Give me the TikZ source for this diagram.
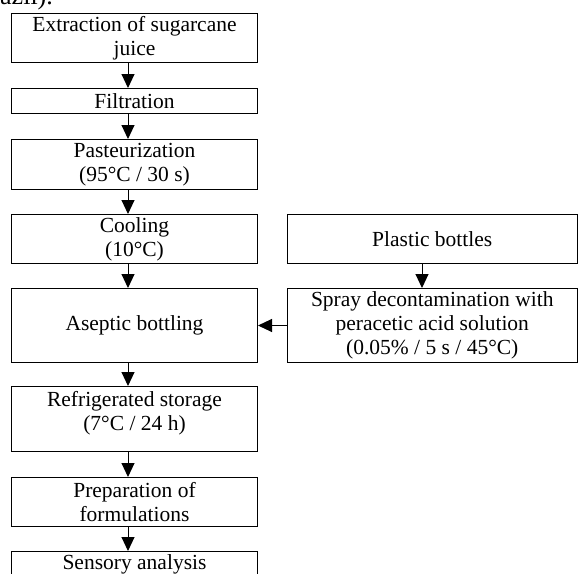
\documentclass[tikz,border=0pt]{standalone}
\usepackage{fontspec}
\setmainfont{Liberation Serif}
\usetikzlibrary{arrows.meta}
\begin{document}
\begin{tikzpicture}[x=1pt,y=-1pt,
  txt/.style={inner sep=0pt, align=center, font=\fontsize{21.5}{24}\selectfont},
  box/.style={txt, draw, line width=1pt, anchor=north west},
  lbox/.style={box, minimum width=246pt},
  rbox/.style={box, minimum width=289.5pt},
  arr/.style={line width=1pt, -{Triangle[width=13pt,length=14pt]}}]
\clip (0,0) rectangle (578,573);
\node[anchor=base west, inner sep=0pt, font=\fontsize{26}{30}\selectfont] (cap) at (0,4) {azil).};
\node[lbox, minimum height=49pt] (b1) at (11,13) {Extraction of sugarcane\\juice};
\node[lbox, minimum height=25pt] (b2) at (11,88) {Filtration};
\node[lbox, minimum height=50pt] (b3) at (11,139) {Pasteurization\\(95°C / 30 s)};
\node[lbox, minimum height=49pt] (b4) at (11,214) {Cooling\\(10°C)};
\node[lbox, minimum height=74pt] (b5) at (11,288) {Aseptic bottling};
\node[lbox, minimum height=65pt] (b6) at (11,386) {};
\node[txt, anchor=north] (b6t) at ([yshift=-5pt]b6.north) {Refrigerated storage\\(7°C / 24 h)};
\node[lbox, minimum height=49pt] (b7) at (11,477) {Preparation of\\formulations};
\node[lbox, minimum height=26pt] (b8) at (11,551) {Sensory analysis};
\node[rbox, minimum height=49pt] (p1) at (287,214) {Plastic bottles};
\node[rbox, minimum height=74pt] (p2) at (287,288) {Spray decontamination with\\peracetic acid solution\\(0.05\% / 5 s / 45°C)};
\coordinate (axL) at (128,0);
\coordinate (axR) at (422,0);
\draw[arr] (b1.south -| axL) -- (b2.north -| axL);
\draw[arr] (b2.south -| axL) -- (b3.north -| axL);
\draw[arr] (b3.south -| axL) -- (b4.north -| axL);
\draw[arr] (b4.south -| axL) -- (b5.north -| axL);
\draw[arr] (b5.south -| axL) -- (b6.north -| axL);
\draw[arr] (b6.south -| axL) -- (b7.north -| axL);
\draw[arr] (b7.south -| axL) -- (b8.north -| axL);
\draw[arr] (p1.south -| axR) -- (p2.north -| axR);
\draw[arr] (p2.west) -- (b5.east);
\end{tikzpicture}
\end{document}
